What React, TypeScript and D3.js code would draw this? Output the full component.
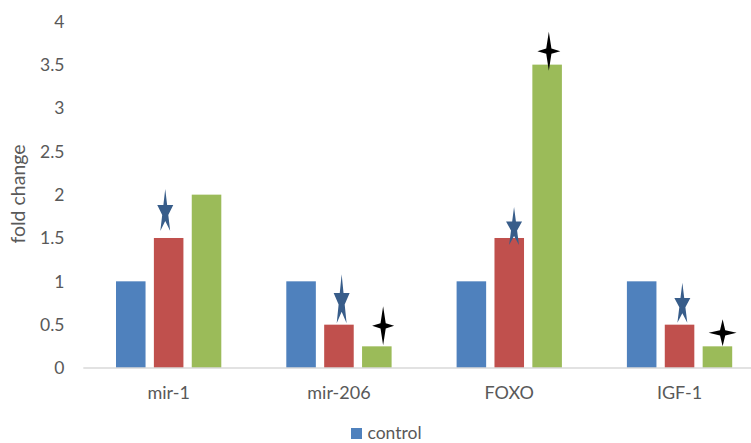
import React from 'react';
import * as d3 from 'd3';

const categories = ['mir-1', 'mir-206', 'FOXO', 'IGF-1'];
const control = [1, 1, 1, 1];
const group2 = [1.5, 0.5, 1.5, 0.5];
const group3 = [2, 0.25, 3.5, 0.25];
const seriesColors = ['#4F81BD', '#C0504D', '#9BBB59'];
const legendLabels = ['control'];
const yTicks = [0, 0.5, 1, 1.5, 2, 2.5, 3, 3.5, 4];

// significance marks: which bar they sit on, and the shape
const marks = [
  { cat: 'mir-1', series: 1, kind: 'star5', dx: -3.4, gap: 7, w: 16, h: 42 },
  { cat: 'mir-206', series: 1, kind: 'star5', dx: 2.7, gap: 1.4, w: 16, h: 49 },
  { cat: 'FOXO', series: 1, kind: 'star5', dx: 4.8, gap: -7, w: 16, h: 38 },
  { cat: 'IGF-1', series: 1, kind: 'star5', dx: 2.8, gap: 2, w: 16, h: 40 },
  { cat: 'mir-206', series: 2, kind: 'star4', dx: 6.3, gap: 1, w: 22, h: 39 },
  { cat: 'FOXO', series: 2, kind: 'star4', dx: 1.7, gap: -6, w: 23, h: 39 },
  { cat: 'IGF-1', series: 2, kind: 'star4', dx: 5.2, gap: 0, w: 28, h: 27 },
];

const width = 751;
const height = 443;
const font = 'Lato, "Open Sans", sans-serif';
const textColor = '#595959';

const star5 = (w: number, h: number) => {
  // regular star squeezed to w x h, origin at bottom centre
  const pts: [number, number][] = [];
  for (let i = 0; i < 10; i++) {
    const r = i % 2 === 0 ? 1 : 0.38;
    const a = -Math.PI / 2 + (i * Math.PI) / 5;
    pts.push([Math.cos(a) * r, Math.sin(a) * r]);
  }
  const sx = w / 1.902;
  const sy = h / 1.809;
  return d3.line()(pts.map(([x, y]) => [x * sx, (y - Math.cos(Math.PI / 5)) * sy])) + 'Z';
};

const star4 = (w: number, h: number) => {
  const W = w / 2;
  const H = h / 2;
  const k = 2.6;
  // origin at bottom centre
  const pts: [number, number][] = [
    [0, -H], [k, -k], [W, 0], [k, k], [0, H], [-k, k], [-W, 0], [-k, -k],
  ];
  return d3.line()(pts.map(([x, y]) => [x, y - H])) + 'Z';
};

export default function App() {
  const series = [control, group2, group3];
  const y = d3.scaleLinear().domain([0, 4]).range([368, 21.3]);
  const x = d3.scaleBand().domain(categories).range([83.5, 764.7]);
  const groupW = 105.3;
  const xi = d3.scaleBand<number>().domain([0, 1, 2]).range([0, groupW]).paddingInner(0.22);
  const barX = (cat: string, s: number) => (x(cat) as number) + (x.bandwidth() - groupW) / 2 + (xi(s) as number);

  return (
    <svg width={width} height={height} style={{ position: 'absolute', left: 0, top: 0 }} fontFamily={font}>
      <rect width={width} height={height} fill="#fff" />
      {yTicks.map((t) => (
        <text key={t} x={64.5} y={y(t)} dy="0.36em" textAnchor="end" fontSize={17.5} fill={textColor}>
          {t}
        </text>
      ))}
      <text
        transform={`translate(25,194) rotate(-90)`}
        textAnchor="middle"
        fontSize={19.5}
        fill={textColor}
      >
        fold change
      </text>
      {series.map((vals, s) =>
        categories.map((c, i) => (
          <rect
            key={c + s}
            x={barX(c, s)}
            y={y(vals[i])}
            width={xi.bandwidth()}
            height={y(0) - y(vals[i])}
            fill={seriesColors[s]}
          />
        ))
      )}
      <line x1={83.3} x2={width} y1={368} y2={368} stroke="#D9D9D9" strokeWidth={1.3} />
      {categories.map((c) => (
        <text
          key={c}
          x={(x(c) as number) + x.bandwidth() / 2}
          y={399}
          textAnchor="middle"
          fontSize={18}
          fill={textColor}
        >
          {c}
        </text>
      ))}
      {marks.map((m, i) => {
        const idx = categories.indexOf(m.cat);
        const cx = barX(m.cat, m.series) + xi.bandwidth() / 2 + m.dx;
        const by = y(series[m.series][idx]) - m.gap;
        const d = m.kind === 'star5' ? star5(m.w, m.h) : star4(m.w, m.h);
        return (
          <path
            key={i}
            d={d}
            transform={`translate(${cx},${by})`}
            fill={m.kind === 'star5' ? '#385D8A' : '#000'}
          />
        );
      })}
      {legendLabels.map((l, i) => (
        <g key={l} transform={`translate(351,428)`}>
          <rect width={11} height={11} fill={seriesColors[i]} />
          <text x={16.5} y={10.5} fontSize={17.5} fill={textColor}>
            {l}
          </text>
        </g>
      ))}
    </svg>
  );
}
